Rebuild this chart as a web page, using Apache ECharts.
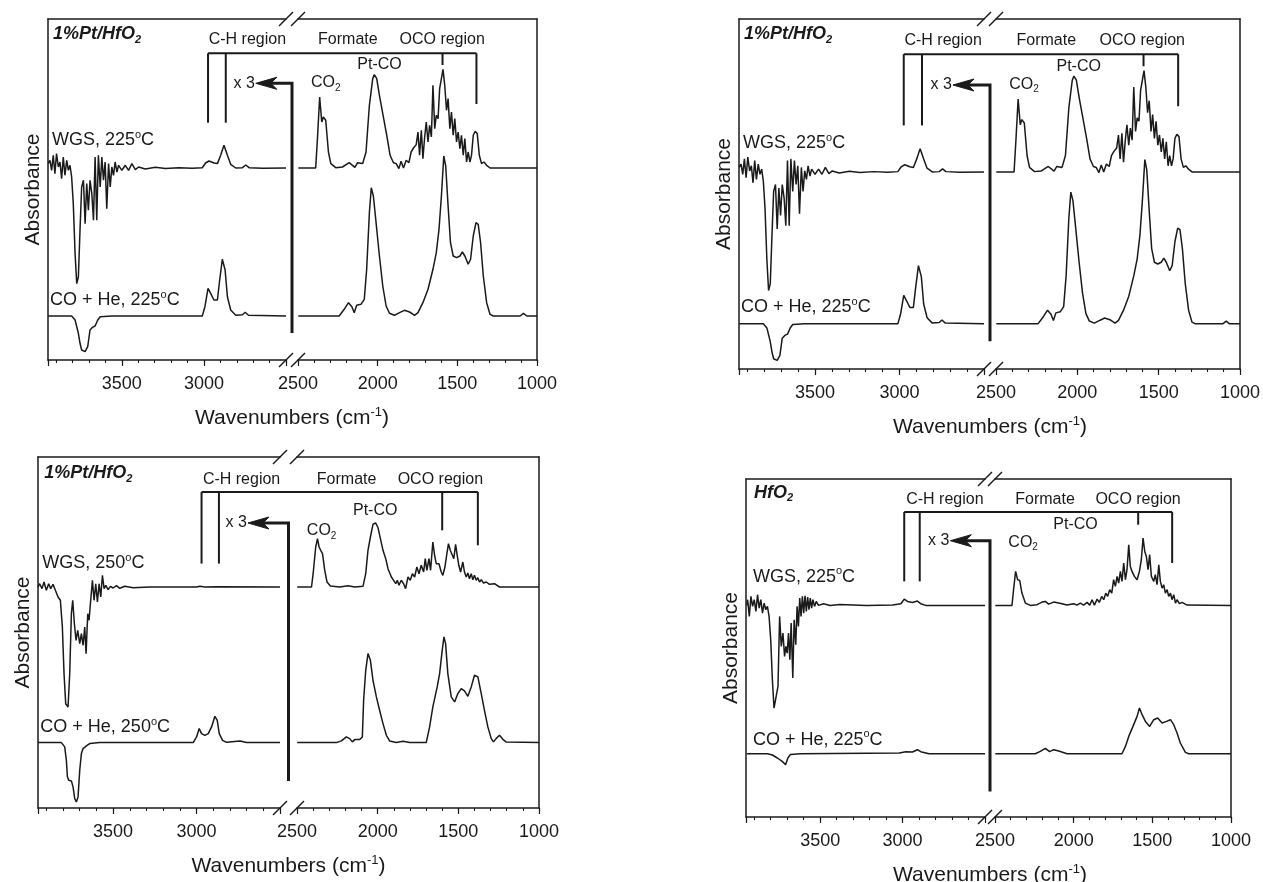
<!DOCTYPE html>
<html>
<head>
<meta charset="utf-8">
<script src="https://cdn.jsdelivr.net/npm/echarts@6/dist/echarts.min.js"></script>
<style>
  html, body { margin: 0; padding: 0; background: #fff; }
  #chart { width: 1263px; height: 882px; }
</style>
</head>
<body>
<div id="chart"></div>
<script>
// spectra: [wavenumber (cm-1), absorbance above its own baseline (a.u.)]
// "High" = 3950-2500 cm-1 part (shown x3), "Low" = 2500-1000 cm-1 part

// 1%Pt/HfO2, 225 C
const pt225WgsHigh = [[3949,4.4],[3938,7.7],[3928,-2.3],[3918,12.7],[3908,-5.6],[3898,14.4],[3887,1],[3877,6],[3867,-10.6],[3857,11],[3847,-7.3],[3836,7.7],[3826,-2.3],[3816,2.7],[3806,-9],[3796,-35.6],[3785,-85.6],[3775,-115.6],[3765,-109],[3755,-62.3],[3745,-19],[3734,-12.3],[3724,-55.6],[3714,-15.6],[3704,-42.3],[3694,-12.3],[3683,-25.6],[3673,-52.3],[3663,11],[3653,-52.3],[3643,12.7],[3632,-19],[3622,11],[3612,-12.3],[3602,6],[3592,-40.6],[3581,4.4],[3571,-19],[3561,1],[3551,-7.3],[3541,6],[3530,-4],[3520,2.7],[3500,-2.3],[3479,2.7],[3459,-2.3],[3439,4.4],[3418,-1.6],[3398,1],[3357,-1],[3296,0.7],[3235,-0.6],[3153,0.3],[3071,-0.3],[3010,0.3],[2990,5],[2969,7],[2939,5],[2918,4.4],[2898,12.7],[2878,22.7],[2857,12.7],[2837,3.7],[2806,0],[2765,0.3],[2745,3],[2725,0.3],[2643,-0.3],[2500,0]];
const pt225WgsLow = [[2498,0],[2389,0],[2378,29.4],[2364,71],[2351,46],[2341,51],[2326,47.7],[2309,16],[2294,4.4],[2263,0.3],[2221,1],[2179,5.3],[2158,2.7],[2143,0.7],[2126,5.3],[2094,4.4],[2073,16],[2052,62.7],[2031,89.4],[2021,93.4],[2006,89.4],[1989,72.7],[1968,54.4],[1943,32.7],[1922,12.7],[1901,5.3],[1884,4.4],[1867,-0.6],[1853,6.7],[1838,0],[1821,7.7],[1804,5.3],[1790,16],[1775,20],[1758,23.4],[1747,36],[1737,12.7],[1726,37.7],[1716,9.4],[1705,31],[1695,46],[1684,26],[1674,42.7],[1663,31],[1653,82.7],[1642,39.4],[1632,52.7],[1621,49.4],[1611,79.4],[1600,89.4],[1590,98.7],[1579,82.7],[1568,57.7],[1558,69.4],[1547,39.4],[1537,56],[1526,32.7],[1516,49.4],[1505,26],[1495,36],[1484,19.4],[1474,32.7],[1463,12.7],[1453,29.4],[1442,6],[1432,16],[1421,6],[1411,12.7],[1400,32.7],[1388,36.7],[1375,34.4],[1362,12.7],[1348,4.4],[1333,6],[1316,2.7],[1295,0],[1000,0]];
const pt225CoHigh = [[3949,0],[3806,0],[3785,-4],[3765,-17.3],[3755,-27.3],[3745,-34],[3724,-35.6],[3708,-30.7],[3694,-14],[3679,-11.3],[3663,-10],[3647,-4],[3632,-0.7],[3561,0],[3010,0],[2994,9.3],[2975,27.7],[2959,22.7],[2939,16],[2918,16],[2904,36],[2888,56.7],[2871,46],[2857,19.3],[2837,6],[2806,0.7],[2765,1.3],[2749,3.7],[2729,0.7],[2500,0]];
const pt225CoLow = [[2498,0],[2242,0],[2210,6.7],[2183,13.3],[2162,9.3],[2147,3.3],[2132,10.7],[2105,11.7],[2084,16.7],[2069,46.7],[2052,103.3],[2040,128.3],[2027,120],[2010,93.3],[1989,60],[1968,30],[1947,10],[1926,2.7],[1895,0.7],[1863,3.3],[1832,5.7],[1800,4],[1768,0.7],[1747,3.3],[1716,13.3],[1684,26.7],[1653,46.7],[1632,63.3],[1615,86.7],[1600,120],[1585,160],[1573,150],[1558,110],[1543,73.3],[1526,60],[1505,58.3],[1484,60],[1468,64],[1453,60],[1432,51.7],[1417,56.7],[1400,80],[1383,93.3],[1369,91.7],[1354,73.3],[1337,40],[1316,13.3],[1295,1.7],[1274,0],[1106,0],[1085,2.7],[1064,0],[1000,0]];

// 1%Pt/HfO2, 250 C
const pt250WgsHigh = [[3950,0],[3940,3.3],[3926,-1.6],[3914,5],[3900,-3.3],[3886,3.3],[3874,-1.6],[3860,2.7],[3846,-3.3],[3830,-10],[3816,-13.3],[3804,-40],[3794,-86.7],[3784,-116.7],[3770,-120],[3760,-86.7],[3750,-26.7],[3742,-13.3],[3732,-36.7],[3722,-53.3],[3712,-43.3],[3700,-56.7],[3690,-46.7],[3680,-58.3],[3670,-40],[3662,-66.7],[3652,-26.7],[3644,-33.3],[3636,-16.7],[3624,6.7],[3614,-13.3],[3604,3.3],[3594,-15],[3584,3.3],[3574,-10],[3564,11.7],[3554,-1.6],[3544,1.6],[3530,-2.7],[3516,0.7],[3500,-1],[3480,1.3],[3460,-1.3],[3430,0.7],[3380,-0.7],[3280,0],[3000,0],[2980,0.7],[2950,0],[2880,0.3],[2500,0]];
const pt250WgsLow = [[2499,0],[2410,0],[2400,13.3],[2384,40],[2373,48.3],[2363,40],[2353,36.7],[2342,33.3],[2328,16.7],[2314,5],[2293,1],[2235,0],[2184,1.3],[2142,0],[2091,0.7],[2074,13.3],[2060,36.7],[2045,50],[2029,62.7],[2012,64],[1998,59.3],[1983,48.3],[1967,36.7],[1950,28.3],[1936,18.3],[1926,20],[1915,10],[1901,6.7],[1888,3.3],[1878,6.7],[1868,1.7],[1854,6.7],[1839,3.3],[1827,-1.7],[1812,10],[1798,6.7],[1785,13.3],[1771,10],[1757,20],[1744,13.3],[1730,21.7],[1715,15],[1705,28.3],[1695,16.7],[1682,28.3],[1672,16.7],[1658,45],[1647,31.7],[1637,23.3],[1620,23.3],[1606,15],[1596,11.7],[1583,20],[1571,33.3],[1561,43.3],[1550,36.7],[1538,38.3],[1528,28.3],[1517,42.7],[1507,31.7],[1497,21.7],[1486,15],[1472,25],[1462,15],[1451,10],[1441,14],[1431,8.3],[1420,13.3],[1410,7.3],[1400,11.7],[1389,6.7],[1379,9.3],[1369,5],[1358,7.3],[1344,4],[1327,5],[1307,2.7],[1276,3.3],[1245,0],[1000,0]];
const pt250CoHigh = [[3950,0],[3810,0],[3790,-4.3],[3780,-17.7],[3774,-34],[3766,-37.7],[3750,-38.3],[3740,-44.3],[3730,-56],[3720,-59.3],[3710,-54.3],[3700,-27.7],[3690,-11],[3680,-6],[3670,-5],[3656,-2.7],[3640,-1],[3580,0],[3020,0],[3000,5.7],[2984,14],[2970,9],[2950,7.3],[2930,9],[2910,15.7],[2890,26.3],[2876,22.3],[2864,9],[2844,2.3],[2820,0.3],[2740,1.7],[2700,0],[2500,0]];
const pt250CoLow = [[2499,0],[2256,0],[2225,1.7],[2194,5.7],[2173,4],[2157,0.7],[2142,3],[2111,3],[2095,5.7],[2087,42.3],[2074,72.3],[2060,89],[2045,82.3],[2029,62.3],[2008,45.7],[1988,32.3],[1967,19],[1946,7.3],[1926,1.7],[1884,0],[1843,1.3],[1802,0],[1699,0],[1678,15.7],[1658,35.7],[1631,55.7],[1616,69],[1600,92.3],[1589,105.7],[1579,99],[1565,69],[1544,45.7],[1523,40.7],[1503,49],[1482,54],[1462,51.7],[1441,46.3],[1420,55.7],[1400,67.3],[1379,65.7],[1358,49],[1338,32.3],[1317,15.7],[1296,4],[1282,0.7],[1266,4],[1245,7.3],[1224,3.3],[1204,0.7],[1000,0]];

// HfO2, 225 C
const hf225WgsHigh = [[3945,0],[3940,5.7],[3930,-11],[3920,9],[3910,-1],[3900,5.7],[3890,-6],[3880,10.7],[3870,-2.7],[3860,5.7],[3850,-7.7],[3840,2.3],[3830,-4.3],[3820,-1],[3810,-11],[3800,-34.3],[3790,-74.3],[3780,-102.7],[3768,-104.3],[3756,-81],[3746,-11],[3736,-41],[3726,-27.7],[3716,-51],[3708,-41],[3700,-47.7],[3692,-27.7],[3684,-54.3],[3676,-17.7],[3666,-72.7],[3658,-14.3],[3648,-39.3],[3640,-1],[3632,-21],[3624,7.3],[3616,-11],[3608,9],[3600,-7.7],[3592,9.7],[3584,-6],[3576,8.3],[3568,-4.3],[3560,7.3],[3552,-2.7],[3544,5.7],[3534,-1],[3524,4],[3510,0],[3480,1.7],[3440,0],[3380,1],[3220,0],[3060,0.3],[3010,1.7],[2990,6.3],[2970,4],[2940,3],[2910,4.3],[2890,1.7],[2860,0],[2500,0]];
const hf225WgsLow = [[2498,0],[2392,0],[2382,15.7],[2369,34],[2356,25.7],[2343,25],[2329,12.3],[2307,2.3],[2276,0],[2233,0.7],[2201,3.3],[2180,4],[2159,1.3],[2127,3.3],[2095,2.3],[2042,0.3],[2000,1.7],[1979,0.3],[1958,2.3],[1936,0.3],[1915,3],[1898,0.3],[1883,5.7],[1868,0.3],[1851,6.3],[1837,3],[1822,9],[1809,5.7],[1796,12.3],[1784,9],[1771,15.7],[1758,12.3],[1746,25.7],[1735,19],[1724,29],[1714,22.3],[1703,34],[1693,24],[1682,42.3],[1671,25.7],[1661,35.7],[1650,60.7],[1640,39],[1629,34],[1614,29],[1597,25.7],[1582,34],[1570,45.7],[1559,67.3],[1548,54],[1538,49],[1527,35.7],[1517,50.7],[1506,29],[1491,24],[1481,30.7],[1470,20.7],[1459,40.7],[1449,24],[1438,17.3],[1428,20.7],[1417,12.3],[1406,15.7],[1396,9],[1385,12.3],[1375,5.7],[1364,10.7],[1353,2.3],[1343,5.7],[1328,1.7],[1311,3],[1279,0.3],[1000,0]];
const hf225CoHigh = [[3945,0],[3820,0],[3790,-1.3],[3760,-4.3],[3730,-7.7],[3710,-11],[3696,-4.3],[3680,-0.7],[3620,0],[3020,0.7],[2980,2],[2940,1.7],[2910,4],[2890,2],[2840,0],[2500,0]];
const hf225CoLow = [[2498,0],[2244,0],[2212,2.3],[2180,5.3],[2153,2],[2127,4],[2095,2.7],[2042,0],[1693,0],[1671,7.3],[1650,17.3],[1623,27.3],[1597,37.3],[1582,45.7],[1565,39],[1544,32.3],[1517,27.3],[1491,34],[1466,35.7],[1438,30.7],[1410,32.3],[1385,34],[1364,29],[1343,20.7],[1322,10.7],[1290,1.3],[1269,0],[1000,0]];

// axis tick labels
const highLabels = [3000, 3500];
const lowLabels = [1000, 1500, 2000, 2500];

const INK = '#1a1a1a';
const FONT = '"Liberation Sans", Arial, Helvetica, sans-serif';

// panel layout, trace baselines and annotation anchors (in wavenumber / a.u.)
const panels = [
  {
    box: { left: 48, right: 537, top: 19, bottom: 360 }, gap: [286, 298], yMax: 341,
    traces: [pt225WgsHigh, pt225WgsLow, pt225CoHigh, pt225CoLow], shift: { wgs: 192, co: 44 },
    title: '1%Pt/HfO{sub|2}', wgs: 'WGS, 225{sup|o}C', co: 'CO + He, 225{sup|o}C',
    ann: { bracket: [306.7, 2975, 1380], chTicks: [2975, 2867], chBottom: 237.3, ocoTicks: [[1593, 295], [1380, 256]],
      arrow: [27, 276.7, 2684], title: [3920, 326], region: 320, ch: 2971, formate: 2374, oco: 1863,
      ptco: [2128, 295], co2: [2419, 280], wgsLbl: [3926, 220], coLbl: [3938, 60] }
  },
  {
    box: { left: 739, right: 1242, top: 19, bottom: 369 }, gap: [984, 996], yMax: 341,
    traces: [pt225WgsHigh, pt225WgsLow, pt225CoHigh, pt225CoLow], shift: { wgs: 192, co: 44 },
    title: '1%Pt/HfO{sub|2}', wgs: 'WGS, 225{sup|o}C', co: 'CO + He, 225{sup|o}C',
    ann: { bracket: [306.7, 2975, 1380], chTicks: [2975, 2867], chBottom: 237.3, ocoTicks: [[1593, 295], [1380, 256]],
      arrow: [27, 276.7, 2684], title: [3920, 326], region: 320, ch: 2971, formate: 2374, oco: 1863,
      ptco: [2128, 295], co2: [2419, 280], wgsLbl: [3926, 220], coLbl: [3938, 60] }
  },
  {
    box: { left: 38, right: 539, top: 457, bottom: 808 }, gap: [280, 297], yMax: 351,
    traces: [pt250WgsHigh, pt250WgsLow, pt250CoHigh, pt250CoLow], shift: { wgs: 221, co: 65.4 },
    title: '1%Pt/HfO{sub|2}', wgs: 'WGS, 250{sup|o}C', co: 'CO + He, 250{sup|o}C',
    ann: { bracket: [316, 2970, 1379], chTicks: [2970, 2866], chBottom: 244.4, ocoTicks: [[1600, 277.7], [1379, 262.7]],
      arrow: [27, 285, 2692], title: [3912, 334.7], region: 328.7, ch: 2962, formate: 2377, oco: 1876,
      ptco: [2153, 297.7], co2: [2439, 280], wgsLbl: [3924, 244.7], coLbl: [3936, 80.7] }
  },
  {
    box: { left: 746, right: 1231, top: 479, bottom: 817 }, gap: [985, 995], yMax: 338,
    traces: [hf225WgsHigh, hf225WgsLow, hf225CoHigh, hf225CoLow], shift: { wgs: 211.6, co: 63.3 },
    title: 'HfO{sub|2}', wgs: 'WGS, 225{sup|o}C', co: 'CO + He, 225{sup|o}C',
    ann: { bracket: [305, 2990, 1374], chTicks: [2990, 2896], chBottom: 235.6, ocoTicks: [[1590, 292.3], [1374, 254]],
      arrow: [25.6, 276.3, 2710], title: [3902, 324.3], region: 317.3, ch: 2978, formate: 2371, oco: 1862,
      ptco: [2129, 292.3], co2: [2415, 277.3], wgsLbl: [3908, 240.3], coLbl: [3908, 77.3] }
  }
];

const chart = echarts.init(document.getElementById('chart'));

const grids = [], xAxes = [], yAxes = [], series = [];
const lineStyle = { color: INK, width: 1.5 };

panels.forEach((p, i) => {
  const b = p.box;
  const h = b.bottom - b.top;
  grids.push({ left: b.left, top: b.top, width: p.gap[0] - b.left, height: h });
  grids.push({ left: p.gap[1], top: b.top, width: b.right - p.gap[1], height: h });

  [[2500, 3950, highLabels], [1000, 2500, lowLabels]].forEach(([min, max, shown], k) => {
    const g = 2 * i + k;
    xAxes.push({
      type: 'value', gridIndex: g, position: 'bottom', min, max, inverse: true, interval: 500,
      axisLine: { show: true, onZero: false, lineStyle },
      axisTick: { show: true, length: 6, lineStyle: { color: INK, width: 1.2 } },
      axisLabel: {
        show: true, margin: 15, fontSize: 18, fontFamily: FONT, color: INK,
        showMinLabel: true, showMaxLabel: true,
        formatter: v => (shown.includes(v) ? String(v) : '')
      },
      splitLine: { show: false }
    });
    xAxes.push({
      type: 'value', gridIndex: g, position: 'bottom', min, max, inverse: true, interval: 100,
      axisLine: { show: false, onZero: false },
      axisTick: { show: true, length: 3, lineStyle: { color: INK, width: 1.1 } },
      axisLabel: { show: false }, splitLine: { show: false }
    });
    xAxes.push({
      type: 'value', gridIndex: g, position: 'top', min, max, inverse: true,
      axisLine: { show: true, onZero: false, lineStyle },
      axisTick: { show: false }, axisLabel: { show: false }, splitLine: { show: false }
    });
    yAxes.push({
      type: 'value', gridIndex: g, min: 0, max: p.yMax, position: k === 0 ? 'left' : 'right',
      axisLine: { show: true, onZero: false, lineStyle },
      axisTick: { show: false }, axisLabel: { show: false }, splitLine: { show: false },
      name: k === 0 ? 'Absorbance' : '', nameLocation: 'middle', nameGap: 4, nameRotate: 90,
      nameTextStyle: { fontSize: 21, fontFamily: FONT, color: INK }
    });
  });

  const add = (data, k, shift) => series.push({
    type: 'line', xAxisIndex: 3 * (2 * i + k), yAxisIndex: 2 * i + k,
    data: data.map(d => [d[0], d[1] + shift]),
    symbol: 'none', showSymbol: false, silent: true,
    lineStyle: { color: INK, width: 1.5 }
  });
  add(p.traces[0], 0, p.shift.wgs);
  add(p.traces[1], 1, p.shift.wgs);
  add(p.traces[2], 0, p.shift.co);
  add(p.traces[3], 1, p.shift.co);
});

chart.setOption({
  animation: false,
  backgroundColor: '#fff',
  grid: grids,
  xAxis: xAxes,
  yAxis: yAxes,
  series
});

// annotations
function richFor(size, extra) {
  const s = Math.round(size * 0.62);
  return {
    sup: Object.assign({ fontSize: s, fontFamily: FONT, fill: INK, verticalAlign: 'top', lineHeight: s }, extra || {}),
    sub: Object.assign({ fontSize: s, fontFamily: FONT, fill: INK, verticalAlign: 'bottom', lineHeight: s }, extra || {})
  };
}
function text(x, y, str, size, opts) {
  const o = opts || {};
  return {
    type: 'text', x, y, silent: true, z: 10,
    style: {
      text: str, fontSize: size, fontFamily: FONT, fill: INK,
      fontWeight: o.weight || 'normal', fontStyle: o.style || 'normal',
      align: o.align || 'left', textAlign: o.align || 'left',
      verticalAlign: 'middle', textVerticalAlign: 'middle',
      lineHeight: size + 4,
      rich: richFor(size, o.weight ? { fontWeight: o.weight, fontStyle: o.style } : null)
    }
  };
}
function seg(x1, y1, x2, y2, w) {
  return { type: 'line', silent: true, z: 10, shape: { x1, y1, x2, y2 }, style: { stroke: INK, lineWidth: w } };
}

const elements = [];
panels.forEach((p, i) => {
  const b = p.box, a = p.ann;
  const at = (w, y) => {
    const g = 2 * i + (w > 2500 ? 0 : 1);
    return chart.convertToPixel({ xAxisIndex: 3 * g, yAxisIndex: g }, [w, y]);
  };

  // axis break marks
  [p.gap[0], p.gap[1]].forEach(x => {
    [b.top, b.bottom].forEach(y => elements.push(seg(x - 7, y + 7, x + 7, y - 7, 1.4)));
  });

  // region brackets
  const l = at(a.bracket[1], a.bracket[0]);
  const r = at(a.bracket[2], a.bracket[0]);
  elements.push(seg(l[0], l[1], r[0], r[1], 2));
  a.chTicks.forEach(w => {
    const t = at(w, a.bracket[0]), e = at(w, a.chBottom);
    elements.push(seg(t[0], t[1], e[0], e[1], 2));
  });
  a.ocoTicks.forEach(([w, y]) => {
    const t = at(w, a.bracket[0]), e = at(w, y);
    elements.push(seg(t[0], t[1], e[0], e[1], 2));
  });

  // x3 arrow across the break
  const gx = (p.gap[0] + p.gap[1]) / 2;
  const bot = at(a.arrow[2], a.arrow[0]);
  const top = at(a.arrow[2], a.arrow[1]);
  const tipX = top[0], ty = top[1];
  elements.push({ type: 'polyline', silent: true, z: 10,
    shape: { points: [[gx, bot[1]], [gx, ty], [tipX + 14, ty]] },
    style: { stroke: INK, lineWidth: 3, fill: null } });
  elements.push({ type: 'polygon', silent: true, z: 10,
    shape: { points: [[tipX, ty], [tipX + 21, ty - 6], [tipX + 15, ty], [tipX + 21, ty + 6]] },
    style: { fill: INK, stroke: INK, lineWidth: 1 } });
  elements.push(text(tipX - 1, ty, 'x 3', 16, { align: 'right' }));

  // labels
  const tp = at(a.title[0], a.title[1]);
  elements.push(text(tp[0], tp[1], p.title, 18, { weight: 'bold', style: 'italic' }));
  [[a.ch, 'C-H region'], [a.formate, 'Formate'], [a.oco, 'OCO region']].forEach(([w, s]) => {
    const q = at(w, a.region);
    elements.push(text(q[0], q[1], s, 16));
  });
  let q = at(a.ptco[0], a.ptco[1]);
  elements.push(text(q[0], q[1], 'Pt-CO', 16));
  q = at(a.co2[0], a.co2[1]);
  elements.push(text(q[0], q[1] + 3, 'CO{sub|2}', 16));
  q = at(a.wgsLbl[0], a.wgsLbl[1]);
  elements.push(text(q[0], q[1], p.wgs, 18));
  q = at(a.coLbl[0], a.coLbl[1]);
  elements.push(text(q[0], q[1], p.co, 18));

  // x axis title
  elements.push(text((p.gap[0] + p.gap[1]) / 2, b.bottom + 58, 'Wavenumbers (cm{sup|-1})', 21, { align: 'center' }));
});

chart.setOption({ graphic: elements });
</script>
</body>
</html>
